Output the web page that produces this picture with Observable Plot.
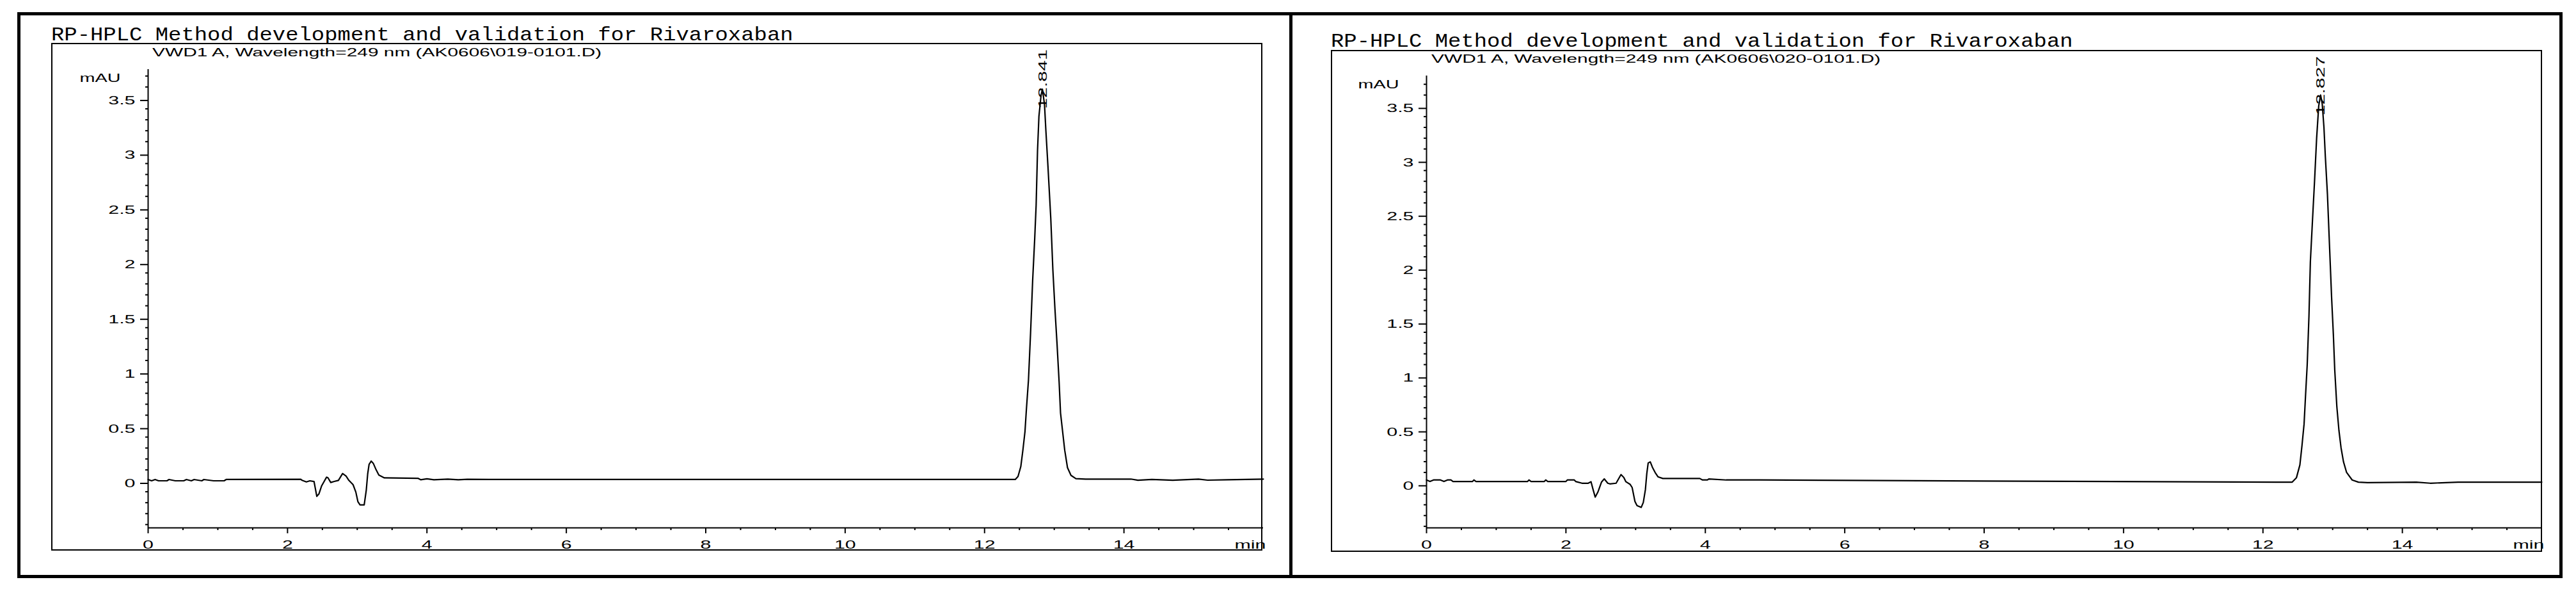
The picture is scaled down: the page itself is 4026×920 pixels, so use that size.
<!DOCTYPE html>
<html>
<head>
<meta charset="utf-8">
<script src="https://cdn.jsdelivr.net/npm/d3@7"></script>
<script src="https://cdn.jsdelivr.net/npm/@observablehq/plot@0.6"></script>
<style>
  body { margin: 0; width: 4026px; height: 920px; position: relative; background: #fff; overflow: hidden; }
  .abs { position: absolute; box-sizing: border-box; }
  .frame { border: 5px solid #000; }
  .box { border: 2px solid #000; }
  .title { font-family: "Liberation Mono", "DejaVu Sans Mono", monospace; font-size: 30px; line-height: 30px;
           white-space: pre; transform: scaleX(1.13); transform-origin: 0 0; color: #000; }
  .sub { font-family: "Liberation Sans", Arial, sans-serif; font-size: 18px; line-height: 18px;
         white-space: pre; transform: scaleX(1.66); transform-origin: 0 0; color: #000; }
  .chart { position: absolute; top: 0; }
</style>
</head>
<body>
<div class="abs frame" style="left:27px;top:19px;width:3978px;height:884px"></div>
<div class="abs" style="left:2015px;top:19px;width:5px;height:884px;background:#000"></div>

<div class="abs box" style="left:80px;top:67px;width:1893px;height:793px"></div>
<div class="abs box" style="left:2080px;top:78px;width:1893px;height:784px"></div>

<div class="abs title" style="left:80px;top:40px">RP-HPLC Method development and validation for Rivaroxaban</div>
<div class="abs title" style="left:2080px;top:50px">RP-HPLC Method development and validation for Rivaroxaban</div>
<div class="abs sub" style="left:238px;top:73px">VWD1 A, Wavelength=249 nm (AK0606\019-0101.D)</div>
<div class="abs sub" style="left:2237px;top:83px">VWD1 A, Wavelength=249 nm (AK0606\020-0101.D)</div>

<div id="chart1" class="chart" style="left:0px"></div>
<div id="chart2" class="chart" style="left:1998px"></div>

<script>
// axis ticks
const xMajor = [0, 2, 4, 6, 8, 10, 12, 14];
const yMajor = [0, 0.5, 1, 1.5, 2, 2.5, 3, 3.5];
const xMinor = d3.range(1, 32).map(i => i / 2).filter(d => d % 2 !== 0);
const yMinor = d3.range(-4, 38).map(i => i / 10).filter(d => Math.round(d * 10) % 5 !== 0);

// retention time (min), signal (mAU)
const trace1 = [
  [0.00, 0.012], [0.05, 0.000], [0.10, 0.012], [0.15, 0.000], [0.27, 0.000], [0.30, 0.012],
  [0.39, 0.000], [0.51, 0.000], [0.55, 0.012], [0.62, 0.000], [0.66, 0.012], [0.77, 0.000],
  [0.80, 0.012], [0.94, 0.000], [1.09, 0.000], [1.12, 0.012], [2.19, 0.014], [2.21, 0.004],
  [2.27, -0.010], [2.32, 0.000], [2.38, -0.006], [2.40, -0.074], [2.42, -0.142], [2.45, -0.120],
  [2.49, -0.045], [2.56, 0.033], [2.58, 0.028], [2.62, -0.015], [2.67, -0.006], [2.73, 0.004],
  [2.79, 0.067], [2.84, 0.043], [2.88, 0.004], [2.94, -0.035], [2.98, -0.103], [3.01, -0.191],
  [3.04, -0.220], [3.10, -0.220], [3.13, -0.084], [3.15, 0.063], [3.17, 0.150], [3.20, 0.180],
  [3.23, 0.160], [3.27, 0.102], [3.31, 0.053], [3.39, 0.027], [3.87, 0.023], [3.91, 0.010],
  [4.00, 0.018], [4.10, 0.010], [4.30, 0.016], [4.45, 0.010], [4.58, 0.014], [5.00, 0.012],
  [8.00, 0.012], [12.30, 0.012], [12.44, 0.012], [12.48, 0.04], [12.52, 0.13], [12.55, 0.28],
  [12.58, 0.45], [12.60, 0.65], [12.63, 0.92], [12.66, 1.35], [12.69, 1.83], [12.72, 2.22],
  [12.74, 2.52], [12.76, 3.02], [12.78, 3.33], [12.81, 3.52], [12.83, 3.58], [12.86, 3.44],
  [12.88, 3.20], [12.91, 2.87], [12.95, 2.40], [12.98, 1.93], [13.01, 1.57], [13.04, 1.25],
  [13.07, 0.90], [13.09, 0.62], [13.12, 0.45], [13.15, 0.28], [13.19, 0.12], [13.24, 0.05],
  [13.31, 0.02], [13.45, 0.015], [14.10, 0.016], [14.20, 0.005], [14.40, 0.012], [14.70, 0.005],
  [15.07, 0.016], [15.20, 0.006], [15.49, 0.010], [16.00, 0.016]
];

// second run
const trace2 = [
  [0.00, 0.03], [0.05, 0.016], [0.10, 0.03], [0.20, 0.03], [0.25, 0.016], [0.30, 0.03],
  [0.35, 0.03], [0.38, 0.016], [0.66, 0.016], [0.68, 0.03], [0.71, 0.016], [1.45, 0.016],
  [1.47, 0.03], [1.50, 0.016], [1.69, 0.016], [1.71, 0.03], [1.74, 0.016], [2.00, 0.016],
  [2.02, 0.03], [2.12, 0.03], [2.14, 0.016], [2.23, 0.0], [2.32, 0.0], [2.36, 0.014],
  [2.39, -0.06], [2.42, -0.129], [2.46, -0.08], [2.51, 0.01], [2.55, 0.04], [2.60, 0.0],
  [2.63, -0.006], [2.72, 0.0], [2.79, 0.08], [2.83, 0.054], [2.86, 0.014], [2.92, -0.01],
  [2.95, -0.04], [2.99, -0.169], [3.02, -0.208], [3.08, -0.224], [3.11, -0.179], [3.14, -0.06],
  [3.16, 0.089], [3.18, 0.188], [3.21, 0.198], [3.24, 0.149], [3.28, 0.099], [3.32, 0.06],
  [3.39, 0.044], [3.92, 0.044], [3.96, 0.03], [4.03, 0.03], [4.05, 0.04], [4.30, 0.03],
  [4.77, 0.03], [8.00, 0.02], [12.30, 0.01], [12.42, 0.01], [12.48, 0.05], [12.53, 0.17],
  [12.56, 0.35], [12.59, 0.55], [12.61, 0.80], [12.635, 1.10], [12.66, 1.55], [12.68, 2.05],
  [12.71, 2.43], [12.74, 2.80], [12.77, 3.20], [12.80, 3.50], [12.827, 3.60], [12.85, 3.52],
  [12.875, 3.30], [12.895, 3.03], [12.925, 2.68], [12.955, 2.20], [12.985, 1.72], [13.01, 1.38],
  [13.03, 1.05], [13.06, 0.71], [13.09, 0.49], [13.12, 0.33], [13.155, 0.20], [13.20, 0.10],
  [13.28, 0.03], [13.37, 0.01], [13.50, 0.005], [14.20, 0.01], [14.40, 0.0], [14.80, 0.01],
  [16.00, 0.01]
];

const peaks1 = [{t: 12.841, y: 3.40, label: "12.841"}];
const peaks2 = [{t: 12.827, y: 3.41, label: "12.827"}];

function chromatogram(trace, peaks, yDomain, marginTop) {
  const yMin = yDomain[0], yMax = yDomain[1];
  const svg = Plot.plot({
    width: 2000,
    height: 880,
    marginLeft: 231,
    marginRight: 26,
    marginTop: marginTop,
    marginBottom: 56,
    x: {domain: [0, 16], label: null},
    y: {domain: yDomain, label: null},
    style: {
      background: "transparent",
      color: "#000",
      fontFamily: "'Liberation Sans', Arial, sans-serif",
      fontSize: "19px",
      overflow: "visible",
      maxWidth: "none"
    },
    marks: [
      Plot.ruleX([0], {stroke: "#000", strokeWidth: 2}),
      Plot.ruleY([yMin], {stroke: "#000", strokeWidth: 2}),
      Plot.axisY(yMajor, {tickSize: 12, tickPadding: 8, strokeWidth: 2, label: null, dy: 4, tickFormat: d => String(d)}),
      Plot.axisY(yMinor, {tickSize: 4, strokeWidth: 2, label: null, tickFormat: () => ""}),
      Plot.axisX(xMajor, {tickSize: 9, tickPadding: 10, strokeWidth: 2, label: null, tickFormat: d => String(d)}),
      Plot.axisX(xMinor, {tickSize: 4, strokeWidth: 2, label: null, tickFormat: () => ""}),
      Plot.line(trace, {x: d => d[0], y: d => d[1], stroke: "#000", strokeWidth: 2.2}),
      Plot.text(peaks, {x: "t", y: "y", text: "label", rotate: -90, textAnchor: "start", fontSize: 19, ariaLabel: "peak label"}),
      Plot.text([{x: 0, y: yMax, t: "mAU"}], {x: "x", y: "y", text: "t", textAnchor: "end", lineAnchor: "top", dx: -43, dy: 7, fontSize: 18}),
      Plot.text([{x: 16, y: yMin, t: "min"}], {x: "x", y: "y", text: "t", textAnchor: "end", lineAnchor: "middle", dx: 4, dy: 26})
    ]
  });
  // the source printout is stretched sideways; widen the glyphs to match
  d3.select(svg).selectAll("text").each(function() {
    const g = this.parentNode;
    const isPeak = g && g.getAttribute("aria-label") === "peak label";
    const tr = this.getAttribute("transform") || "";
    const x = this.getAttribute("x");
    let extra = "";
    if (x !== null && !isNaN(+x)) { extra = ` translate(${+x},0)`; this.setAttribute("x", 0); }
    this.setAttribute("transform", tr + extra + (isPeak ? " scale(1,1.5)" : " scale(1.6,1)"));
  });
  return svg;
}

d3.select("#chart1").append(() => chromatogram(trace1, peaks1, [-0.43, 3.76], 108));
d3.select("#chart2").append(() => chromatogram(trace2, peaks2, [-0.414, 3.778], 118));
</script>
</body>
</html>
